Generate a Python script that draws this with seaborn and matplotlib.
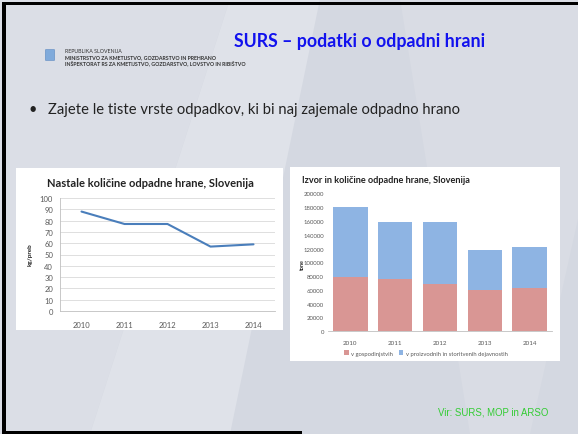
import matplotlib
matplotlib.use('Agg')
import matplotlib.pyplot as plt
from matplotlib.patches import Rectangle, Polygon, Patch, FancyBboxPatch
from matplotlib.ticker import FixedLocator
import seaborn as sns
import pandas as pd

# ---------------- data ----------------
years = ['2010', '2011', '2012', '2013', '2014']
kg_per_capita = [88, 77, 77, 57, 59]
households = [78300, 75500, 68600, 60400, 63300]
production_services = [101400, 82500, 89400, 57500, 59400]
left_yticks = [0, 10, 20, 30, 40, 50, 60, 70, 80, 90, 100]
right_yticks = [0, 20000, 40000, 60000, 80000, 100000, 120000, 140000, 160000, 180000, 200000]

slide_title = 'SURS – podatki o odpadni hrani'
bullet_text = 'Zajete le tiste vrste odpadkov, ki bi naj zajemale odpadno hrano'
left_title = 'Nastale količine odpadne hrane, Slovenija'
right_title = 'Izvor in količine odpadne hrane, Slovenija'
left_ylabel = 'kg/preb'
right_ylabel = 'tone'
legend_labels = ['v gospodinjstvih', 'v proizvodnih in storitvenih dejavnostih']
source_text = 'Vir: SURS, MOP in ARSO'
logo_lines = ['REPUBLIKA SLOVENIJA',
              'MINISTRSTVO ZA KMETIJSTVO, GOZDARSTVO IN PREHRANO',
              'INŠPEKTORAT RS ZA KMETIJSTVO, GOZDARSTVO, LOVSTVO IN RIBIŠTVO']

# ---------------- styles ----------------
sns.set_style('white')
plt.rcParams['font.family'] = ['Lato', 'DejaVu Sans']

W, H = 578, 435
def fx(x):
    return x / W
def fy(y):
    return 1 - y / H

line_color = '#4A7EBB'
pink = '#D99694'
blue = '#8EB4E3'
tick_color = '#595959'
axis_gray = '#BFBFBF'

fig = plt.figure(figsize=(W / 100, H / 100), dpi=100)
fig.patch.set_facecolor('#D4D8E1')

# background light shapes (subtle)
bg = [
    [(0, 0), (230, 0), (90, 435), (0, 435)],
    [(230, 0), (320, 0), (230, 435), (90, 435)],
    [(400, 0), (578, 0), (578, 220), (530, 435), (470, 435)],
]
bg_cols = ['#DBDEE6', '#DFE2E9', '#D9DCE4']
for pts, c in zip(bg, bg_cols):
    fig.add_artist(Polygon([(fx(a), fy(b)) for a, b in pts], closed=True,
                           transform=fig.transFigure, facecolor=c,
                           edgecolor='none', zorder=0))

# black slide border
fig.add_artist(Rectangle((fx(2), fy(6)), 1, 3 / H, transform=fig.transFigure,
                         facecolor='black', edgecolor='none', zorder=1))
fig.add_artist(Rectangle((fx(2), 0), 4 / W, fy(3), transform=fig.transFigure,
                         facecolor='black', edgecolor='none', zorder=1))
fig.add_artist(Rectangle((fx(2), 0), fx(300), 3 / H, transform=fig.transFigure,
                         facecolor='black', edgecolor='none', zorder=1))

# header
fig.text(fx(359.5), fy(42), slide_title, color='#1212EE', fontsize=12.8,
         fontweight='bold', ha='center', va='center')
fig.add_artist(FancyBboxPatch((fx(46), fy(61)), 8 / W, 10 / H,
                              boxstyle='round,pad=0.001', transform=fig.transFigure,
                              facecolor='#7FAADB', edgecolor='#5B88C0', lw=0.4, zorder=2))
for i, (ln, yy) in enumerate(zip(logo_lines, [52, 57.5, 63])):
    fig.text(fx(65), fy(yy), ln, fontsize=3.8, color='#333333',
             fontweight='normal' if i == 0 else 'bold', ha='left', va='center')

fig.text(fx(28), fy(110), '•', fontsize=10.5, color='#222222', ha='left', va='center')
fig.text(fx(48), fy(110), bullet_text, fontsize=10.6, color='#222222',
         ha='left', va='center')

# white chart boxes
fig.add_artist(Rectangle((fx(16), fy(331)), (283 - 16) / W, (331 - 169) / H,
                         transform=fig.transFigure, facecolor='white',
                         edgecolor='none', zorder=2))
fig.add_artist(Rectangle((fx(290), fy(362)), (560 - 290) / W, (362 - 168) / H,
                         transform=fig.transFigure, facecolor='white',
                         edgecolor='none', zorder=2))

# ---------------- left chart ----------------
ax1 = fig.add_axes([fx(60), fy(312), (275 - 60) / W, (312 - 199) / H])
ax1.set_zorder(3)
ax1.patch.set_alpha(0)
df1 = pd.DataFrame({'year': years, 'value': kg_per_capita})
sns.lineplot(data=df1, x='year', y='value', ax=ax1, color=line_color,
             linewidth=1.5, sort=False)
ax1.set_xlim(-0.5, 4.5)
ax1.set_ylim(0, 100)
ax1.set_yticks(left_yticks)
ax1.yaxis.grid(True, color='#D9D9D9', linewidth=0.6)
ax1.set_axisbelow(True)
for s in ['top', 'right']:
    ax1.spines[s].set_visible(False)
ax1.spines['left'].set_color(axis_gray)
ax1.spines['left'].set_linewidth(0.6)
ax1.spines['bottom'].set_color(axis_gray)
ax1.spines['bottom'].set_linewidth(0.6)
ax1.xaxis.set_minor_locator(FixedLocator([-0.5, 0.5, 1.5, 2.5, 3.5, 4.5]))
ax1.tick_params(axis='x', which='major', length=0, labelsize=5.5,
                labelcolor=tick_color, pad=7)
ax1.tick_params(axis='x', which='minor', length=3, color=axis_gray, width=0.6)
ax1.tick_params(axis='y', length=3, color=axis_gray, width=0.6, labelsize=5.5,
                labelcolor=tick_color, pad=2)
ax1.set_xlabel('')
ax1.set_ylabel('')
fig.text(fx(150), fy(184), left_title, fontsize=8.0, fontweight='bold',
         color='#222222', ha='center', va='center')
fig.text(fx(30), fy(255), left_ylabel, fontsize=4.6, fontweight='bold',
         rotation=90, color='#222222', ha='center', va='center')

# ---------------- right chart ----------------
ax2 = fig.add_axes([fx(328), fy(332.3), (552 - 328) / W, (332.3 - 194.3) / H])
ax2.set_zorder(3)
ax2.patch.set_alpha(0)
totals = [h + p for h, p in zip(households, production_services)]
df2 = pd.DataFrame({'year': years, 'households': households, 'total': totals})
sns.barplot(data=df2, x='year', y='total', ax=ax2, color=blue, width=0.77,
            saturation=1, linewidth=0, edgecolor='none')
sns.barplot(data=df2, x='year', y='households', ax=ax2, color=pink, width=0.77,
            saturation=1, linewidth=0, edgecolor='none')
ax2.set_xlim(-0.5, 4.5)
ax2.set_ylim(0, 200000)
ax2.set_yticks(right_yticks)
ax2.set_yticklabels([str(v) for v in right_yticks])
for s in ['top', 'right', 'left']:
    ax2.spines[s].set_visible(False)
ax2.spines['bottom'].set_color(axis_gray)
ax2.spines['bottom'].set_linewidth(0.6)
ax2.tick_params(axis='x', length=0, labelsize=4.5, labelcolor=tick_color, pad=6)
ax2.tick_params(axis='y', length=0, labelsize=4.3, labelcolor=tick_color, pad=3)
ax2.set_xlabel('')
ax2.set_ylabel('')
fig.text(fx(302), fy(181), right_title, fontsize=6.6, fontweight='bold',
         color='#222222', ha='left', va='center')
fig.text(fx(302), fy(265), right_ylabel, fontsize=3.8, fontweight='bold',
         rotation=90, color='#222222', ha='center', va='center')
handles = [Patch(facecolor=pink, edgecolor='none'), Patch(facecolor=blue, edgecolor='none')]
leg = fig.legend(handles, legend_labels, loc='center', ncol=2, frameon=False,
                 bbox_to_anchor=(fx(426), fy(354)), fontsize=4.2,
                 handlelength=0.7, handleheight=0.7, handletextpad=0.4,
                 columnspacing=1.1)
for t in leg.get_texts():
    t.set_color(tick_color)
leg.set_zorder(4)

# footer
fig.text(fx(438), fy(413), source_text, fontsize=6.9, color='#33CC33',
         family='Liberation Sans', ha='left', va='center')

fig.savefig('out.png', dpi=100, facecolor=fig.get_facecolor())
